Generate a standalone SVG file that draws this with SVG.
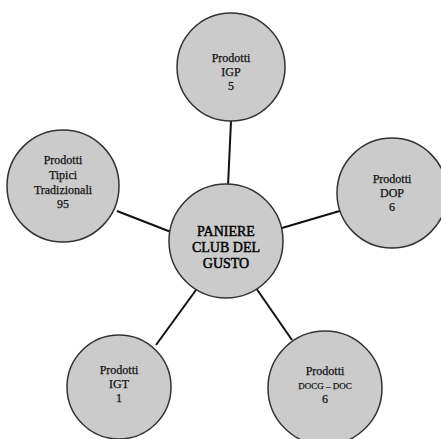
<svg xmlns="http://www.w3.org/2000/svg" width="441" height="439" viewBox="0 0 441 439">
<style>
.n{fill:#cbcbcb;stroke:#333;stroke-width:1.5}
.t{font-family:"Liberation Serif","Times New Roman",serif;font-size:12px;fill:#111;stroke:#111;stroke-width:0.25;text-anchor:middle}
.c{font-family:"Liberation Serif","Times New Roman",serif;font-size:14px;fill:#000;stroke:#000;stroke-width:0.45;text-anchor:middle}
.e{stroke:#111;stroke-width:2;fill:none}
</style>
<rect width="441" height="439" fill="#ffffff"/>
<g id="connectors">
<line class="e" x1="228" y1="186" x2="231" y2="121"/>
<line class="e" x1="171" y1="232" x2="117" y2="211"/>
<line class="e" x1="282" y1="228" x2="343" y2="210"/>
<line class="e" x1="196" y1="290" x2="156" y2="345"/>
<line class="e" x1="256" y1="288" x2="292" y2="340"/>
</g>
<g id="igp">
<circle class="n" cx="231" cy="67" r="54"/>
<text class="t" x="231" y="62">Prodotti</text>
<text class="t" x="231" y="76">IGP</text>
<text class="t" x="231" y="90">5</text>
</g>
<g id="tipici">
<circle class="n" cx="63" cy="186" r="56"/>
<text class="t" x="63" y="164">Prodotti</text>
<text class="t" x="63" y="179">Tipici</text>
<text class="t" x="63" y="194">Tradizionali</text>
<text class="t" x="63" y="208">95</text>
</g>
<g id="dop">
<circle class="n" cx="392" cy="193" r="55"/>
<text class="t" x="392" y="183">Prodotti</text>
<text class="t" x="392" y="197">DOP</text>
<text class="t" x="392" y="211">6</text>
</g>
<g id="center">
<circle class="n" cx="226" cy="241" r="57"/>
<text class="c" x="226" y="236">PANIERE</text>
<text class="c" x="226" y="252">CLUB DEL</text>
<text class="c" x="226" y="268">GUSTO</text>
</g>
<g id="igt">
<circle class="n" cx="119" cy="387" r="52"/>
<text class="t" x="119" y="374">Prodotti</text>
<text class="t" x="119" y="388">IGT</text>
<text class="t" x="119" y="402">1</text>
</g>
<g id="docg">
<circle class="n" cx="325" cy="388" r="57"/>
<text class="t" x="325" y="375">Prodotti</text>
<text class="t" x="325" y="389" style="font-size:9px">DOCG – DOC</text>
<text class="t" x="325" y="403">6</text>
</g>
</svg>
